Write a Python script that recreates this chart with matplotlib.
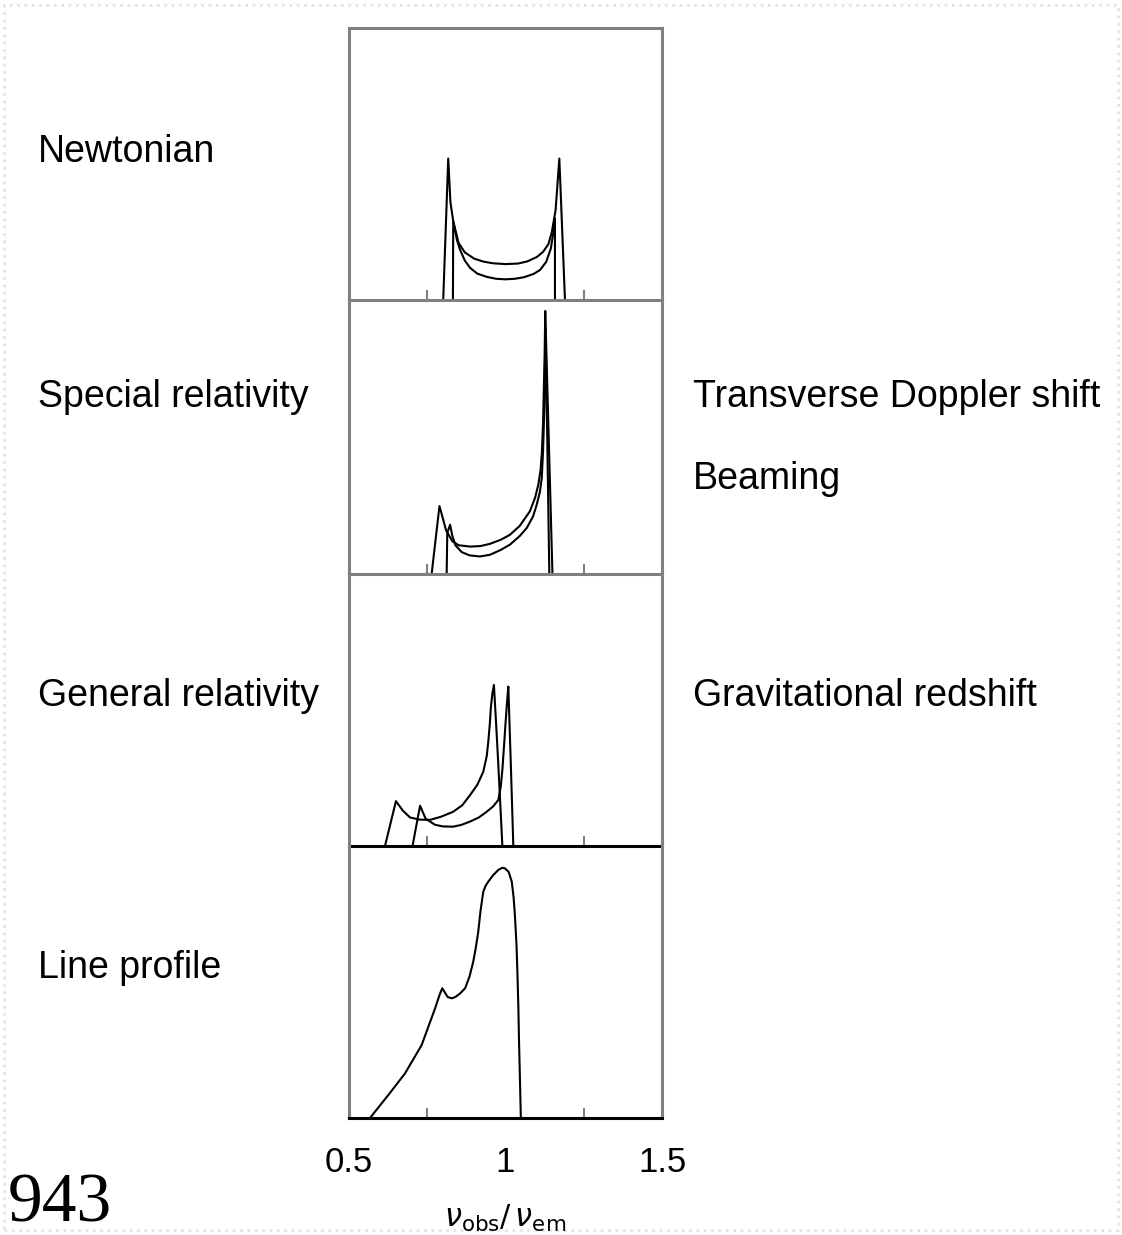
import matplotlib.pyplot as plt
from matplotlib.patches import Rectangle

# ---- data (x = nu_obs/nu_em, y = fraction of panel height) ----
# Newtonian: two double-horned ring profiles
newt_a_x = [0.801, 0.817, 0.824, 0.833, 0.850, 0.870, 0.900, 0.930, 0.960, 1.000, 1.040, 1.070, 1.100,
            1.120, 1.137, 1.148, 1.160, 1.172, 1.190]
newt_a_y = [0.0, 0.52, 0.36, 0.29, 0.21, 0.175, 0.152, 0.141, 0.135, 0.132, 0.134, 0.142, 0.158,
            0.177, 0.205, 0.25, 0.33, 0.52, 0.0]
newt_b_x = [0.832, 0.833, 0.845, 0.855, 0.870, 0.887, 0.910, 0.940, 0.970, 1.000, 1.030, 1.060, 1.090,
            1.110, 1.130, 1.145, 1.153, 1.158, 1.158]
newt_b_y = [0.0, 0.29, 0.22, 0.184, 0.145, 0.118, 0.097, 0.085, 0.078, 0.076, 0.078, 0.084, 0.096,
            0.11, 0.14, 0.19, 0.25, 0.30, 0.0]

# Special relativity
sr_a_x = [0.764, 0.789, 0.797, 0.810, 0.830, 0.850, 0.887, 0.920, 0.950, 0.985, 1.014, 1.045, 1.078,
          1.095, 1.105, 1.112, 1.116, 1.120, 1.122, 1.125, 1.127, 1.150]
sr_a_y = [0.0, 0.248, 0.215, 0.16, 0.12, 0.105, 0.100, 0.102, 0.110, 0.125, 0.143, 0.175, 0.229,
          0.28, 0.327, 0.38, 0.44, 0.55, 0.65, 0.80, 0.96, 0.0]
sr_b_x = [0.812, 0.814, 0.823, 0.830, 0.840, 0.860, 0.885, 0.918, 0.950, 0.985, 1.014, 1.045, 1.068,
          1.088, 1.100, 1.110, 1.116, 1.120, 1.124, 1.128, 1.140]
sr_b_y = [0.0, 0.15, 0.18, 0.14, 0.105, 0.08, 0.068, 0.064, 0.07, 0.088, 0.107, 0.138, 0.168,
          0.21, 0.254, 0.30, 0.352, 0.45, 0.60, 0.90, 0.0]

# General relativity
gr_a_x = [0.615, 0.650, 0.672, 0.695, 0.725, 0.759, 0.795, 0.833, 0.862, 0.887, 0.910, 0.929, 0.940,
          0.945, 0.950, 0.953, 0.958, 0.963, 0.970, 0.977, 0.990]
gr_a_y = [0.0, 0.165, 0.13, 0.105, 0.097, 0.096, 0.108, 0.126, 0.15, 0.1875, 0.225, 0.273, 0.33,
          0.383, 0.45, 0.506, 0.56, 0.592, 0.45, 0.30, 0.0]
gr_b_x = [0.703, 0.727, 0.745, 0.775, 0.800, 0.833, 0.860, 0.887, 0.915, 0.940, 0.960, 0.977, 0.985,
          0.990, 0.996, 1.000, 1.005, 1.009, 1.017, 1.025]
gr_b_y = [0.0, 0.148, 0.10, 0.078, 0.072, 0.071, 0.078, 0.09, 0.105, 0.126, 0.145, 0.169, 0.22,
          0.28, 0.38, 0.45, 0.53, 0.586, 0.30, 0.0]

# Resulting line profile
prof_x = [0.567, 0.626, 0.679, 0.732, 0.775, 0.790, 0.798, 0.806, 0.815, 0.828, 0.840, 0.855, 0.871,
          0.885, 0.897, 0.905, 0.913, 0.920, 0.929, 0.937, 0.945, 0.960, 0.977, 0.990, 0.998, 1.010,
          1.020, 1.026, 1.030, 1.035, 1.038, 1.041, 1.043, 1.046, 1.049]
prof_y = [0.0, 0.085, 0.164, 0.268, 0.403, 0.455, 0.477, 0.462, 0.445, 0.440, 0.445, 0.458, 0.477,
          0.52, 0.575, 0.625, 0.685, 0.76, 0.832, 0.855, 0.869, 0.892, 0.912, 0.920, 0.918, 0.905,
          0.869, 0.81, 0.746, 0.64, 0.538, 0.41, 0.293, 0.15, 0.0]

left_labels = ["Newtonian", "Special relativity", "General relativity", "Line profile"]
right_labels = ["Transverse Doppler shift", "Beaming", "Gravitational redshift"]
xticks = [0.5, 1.0, 1.5]
xtick_labels = ["0.5", "1", "1.5"]

panels = [
    [(newt_a_x, newt_a_y), (newt_b_x, newt_b_y)],
    [(sr_a_x, sr_a_y), (sr_b_x, sr_b_y)],
    [(gr_a_x, gr_a_y), (gr_b_x, gr_b_y)],
    [(prof_x, prof_y)],
]

W, H = 1122, 1235
fig = plt.figure(figsize=(W / 100, H / 100), dpi=100)
plt.rcParams['font.family'] = ['Liberation Sans', 'DejaVu Sans']

# panel edges in pixels (top, bottom)
edges = [(28, 300), (300, 574), (574, 846), (846, 1118)]
x0, x1 = 349, 662
frame_grey = '#808080'

for i, (top, bot) in enumerate(edges):
    ax = fig.add_axes([x0 / W, 1 - bot / H, (x1 - x0) / W, (bot - top) / H])
    ax.patch.set_visible(False)
    for xs, ys in panels[i]:
        ax.plot(xs, ys, color='black', lw=1.5, solid_joinstyle='round')
    ax.set_xlim(0.5, 1.5)
    ax.set_ylim(0, 1)
    ax.set_yticks([])
    ax.set_xticks(xticks)
    ax.set_xticks([0.75, 1.25], minor=True)
    ax.tick_params(axis='x', which='major', direction='in', length=16, width=1.5, color=frame_grey)
    ax.tick_params(axis='x', which='minor', direction='in', length=7, width=1.5, color=frame_grey)
    # ticks at the panel edges sit on the frame; keep only the long one at 1
    for t in ax.xaxis.get_major_ticks():
        if t.get_loc() != 1.0:
            t.tick1line.set_visible(False)
    for side in ['left', 'right', 'top', 'bottom']:
        ax.spines[side].set_color(frame_grey)
        ax.spines[side].set_linewidth(2.2)
    if i > 0:
        ax.spines['top'].set_visible(False)
    if i >= 2:
        ax.spines['bottom'].set_color('black')
    if i < 3:
        ax.set_xticklabels([])
    else:
        ax.set_xticklabels(xtick_labels, fontsize=25)
        ax.tick_params(axis='x', which='major', pad=20)

# labels on the left
label_y = [152, 397, 696, 968]
for txt, yp in zip(left_labels, label_y):
    fig.text(38 / W, 1 - yp / H, txt, fontsize=27, ha='left', va='center')

# labels on the right
right_y = [397, 479, 696]
for txt, yp in zip(right_labels, right_y):
    fig.text(693 / W, 1 - yp / H, txt, fontsize=27, ha='left', va='center')

fig.text(505 / W, 1 - 1218 / H, r'$\nu_{\rm obs}/\,\nu_{\rm em}$', fontsize=22, ha='center', va='center')
fig.text(8 / W, 1 - 1221 / H, "943", fontsize=50, family='Liberation Serif', ha='left', va='baseline')

# faint dotted frame around the picture
fig.patches.append(Rectangle((0.004, 0.004), 0.992, 0.992, transform=fig.transFigure, fill=False,
                             edgecolor='#e4e4e4', lw=2, ls=':'))

fig.savefig('out.png', dpi=100)
